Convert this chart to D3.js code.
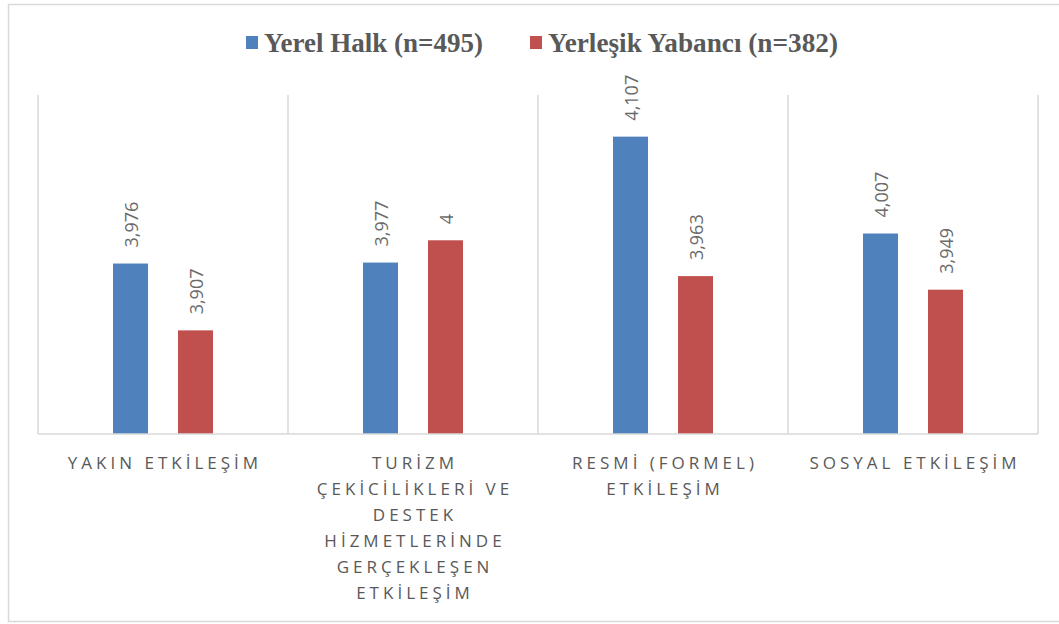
<!DOCTYPE html>
<html>
<head>
<meta charset="utf-8">
<script src="https://cdn.jsdelivr.net/npm/d3@7"></script>
<style>
  body { margin: 0; background: #fff; }
  svg { display: block; }
</style>
</head>
<body>
<svg class="chart"></svg>
<script>
// chart data
var categories = [
  "YAKIN ETKİLEŞİM",
  "TURİZM\nÇEKİCİLİKLERİ VE\nDESTEK\nHİZMETLERİNDE\nGERÇEKLEŞEN\nETKİLEŞİM",
  "RESMİ (FORMEL)\nETKİLEŞİM",
  "SOSYAL ETKİLEŞİM"
];
var seriesNames = ["Yerel Halk (n=495)", "Yerleşik Yabancı (n=382)"];
var yerelHalk = [3.976, 3.977, 4.107, 4.007];
var yerlesikYabanci = [3.907, 4, 3.963, 3.949];
var labelsYerel = ["3,976", "3,977", "4,107", "4,007"];
var labelsYabanci = ["3,907", "4", "3,963", "3,949"];

var width = 1059, height = 624;
var colors = ["#4f81bd", "#c0504d"];
var margin = {top: 95, right: 21, bottom: 190, left: 38};

var chart = d3.select(".chart")
    .attr("width", width)
    .attr("height", height);

// outer frame
chart.append("rect")
    .attr("x", 8.5).attr("y", 4.5)
    .attr("width", 1070).attr("height", 617)
    .attr("fill", "none")
    .attr("stroke", "#d9d9d9")
    .attr("stroke-width", 1.5);

var plotW = width - margin.left - margin.right,
    plotH = height - margin.top - margin.bottom;

var g = chart.append("g")
    .attr("transform", "translate(" + margin.left + "," + margin.top + ")");

var xScale = d3.scaleBand()
    .domain(d3.range(categories.length))
    .range([0, plotW]);

var yScale = d3.scaleLinear()
    .domain([3.8, 4.15])
    .range([plotH, 0]);

// category separators
g.selectAll(".sep")
    .data(d3.range(categories.length + 1))
  .enter().append("line")
    .attr("class", "sep")
    .attr("x1", function(d){ return d * xScale.step(); })
    .attr("x2", function(d){ return d * xScale.step(); })
    .attr("y1", 0)
    .attr("y2", plotH)
    .attr("stroke", "#d9d9d9")
    .attr("stroke-width", 1.5);

var inner = d3.scaleBand()
    .domain([0, 1])
    .range([xScale.bandwidth()/2 - 50, xScale.bandwidth()/2 + 50])
    .paddingInner(30/65);

var series = [yerelHalk, yerlesikYabanci];
var valueLabels = [labelsYerel, labelsYabanci];

series.forEach(function(values, s){
  g.selectAll(".bar" + s)
      .data(values)
    .enter().append("rect")
      .attr("class", "bar" + s)
      .attr("x", function(d, i){ return xScale(i) + inner(s); })
      .attr("y", function(d){ return yScale(d); })
      .attr("width", inner.bandwidth())
      .attr("height", function(d){ return plotH - yScale(d); })
      .attr("fill", colors[s]);

  g.selectAll(".lbl" + s)
      .data(values)
    .enter().append("text")
      .attr("class", "lbl" + s)
      .attr("transform", function(d, i){
        var cx = xScale(i) + inner(s) + inner.bandwidth()/2;
        return "translate(" + (cx + 7) + "," + (yScale(d) - 16) + ") rotate(-90)";
      })
      .attr("font-family", "'Open Sans', sans-serif")
      .attr("font-size", 18)
      .attr("fill", "#6a6a6a")
      .text(function(d, i){ return valueLabels[s][i]; });
});

// baseline
g.append("line")
    .attr("x1", 0).attr("x2", plotW)
    .attr("y1", plotH).attr("y2", plotH)
    .attr("stroke", "#d9d9d9")
    .attr("stroke-width", 1.5);

// category labels
categories.forEach(function(c, i){
  var t = g.append("text")
      .attr("x", xScale(i) + xScale.bandwidth()/2)
      .attr("y", plotH + 35)
      .attr("text-anchor", "middle")
      .attr("font-family", "'Open Sans', sans-serif")
      .attr("font-size", 17)
      .attr("letter-spacing", "4px")
      .attr("fill", "#595959");
  c.split("\n").forEach(function(line, j){
    t.append("tspan")
        .attr("x", xScale(i) + xScale.bandwidth()/2 + 2)
        .attr("dy", j == 0 ? 0 : 26)
        .text(line);
  });
});

// legend
var legendPos = [{sq: 246, tx: 264, w: 219}, {sq: 530, tx: 548, w: 290}];
seriesNames.forEach(function(name, s){
  chart.append("rect")
      .attr("x", legendPos[s].sq)
      .attr("y", 36)
      .attr("width", 12)
      .attr("height", 13)
      .attr("fill", colors[s]);
  chart.append("text")
      .attr("x", legendPos[s].tx)
      .attr("y", 52)
      .attr("font-family", "'Liberation Serif', 'Times New Roman', serif")
      .attr("font-weight", "bold")
      .attr("font-size", 28)
      .attr("textLength", legendPos[s].w)
      .attr("lengthAdjust", "spacingAndGlyphs")
      .attr("fill", "#595959")
      .text(name);
});
</script>
</body>
</html>
